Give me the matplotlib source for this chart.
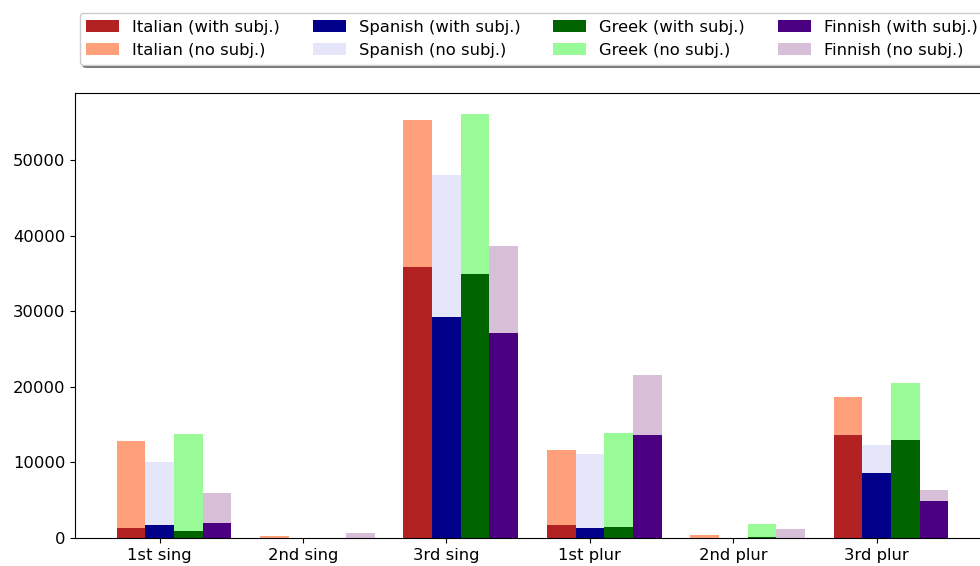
import matplotlib
matplotlib.use("Agg")
import matplotlib.pyplot as plt
import numpy as np

persons = ["1st sing", "2nd sing", "3rd sing", "1st plur", "2nd plur", "3rd plur"]
languages = ["Italian", "Spanish", "Greek", "Finnish"]

# counts with an overt subject
italian_with = [1320, 30, 35850, 1720, 30, 13620]
spanish_with = [1720, 0, 29230, 1320, 0, 8600]
greek_with = [930, 0, 34920, 1460, 130, 12960]
finnish_with = [1980, 30, 27120, 13620, 30, 4890]

# counts without a subject (stacked on top)
italian_no = [11510, 250, 19440, 9920, 370, 5030]
spanish_no = [8330, 0, 18790, 9790, 0, 3700]
greek_no = [12830, 0, 21160, 12430, 1720, 7540]
finnish_no = [3970, 630, 11500, 7940, 1160, 1460]

with_colors = ["firebrick", "darkblue", "darkgreen", "indigo"]
no_colors = ["lightsalmon", "lavender", "palegreen", "thistle"]

fs = 11.8

fig = plt.figure(figsize=(9.8, 5.66), dpi=100)
ax = fig.add_axes([75 / 980, 28 / 566, 915 / 980, 445 / 566])

x = np.arange(len(persons))
width = 0.2
with_data = [italian_with, spanish_with, greek_with, finnish_with]
no_data = [italian_no, spanish_no, greek_no, finnish_no]

for i, lang in enumerate(languages):
    pos = x + (i - 1) * width
    ax.bar(pos, with_data[i], width, color=with_colors[i], label=f"{lang} (with subj.)")
    ax.bar(pos, no_data[i], width, bottom=with_data[i], color=no_colors[i], label=f"{lang} (no subj.)")

ax.set_xticks(x)
ax.set_xticklabels(persons, fontsize=fs)
ax.tick_params(axis="y", labelsize=fs)

ax.legend(loc="upper center", ncol=4, shadow={"alpha": 0.7}, fontsize=fs,
          bbox_to_anchor=(532 / 980, 1 - 5 / 566), bbox_transform=fig.transFigure)

fig.savefig("out.png", dpi=100)
